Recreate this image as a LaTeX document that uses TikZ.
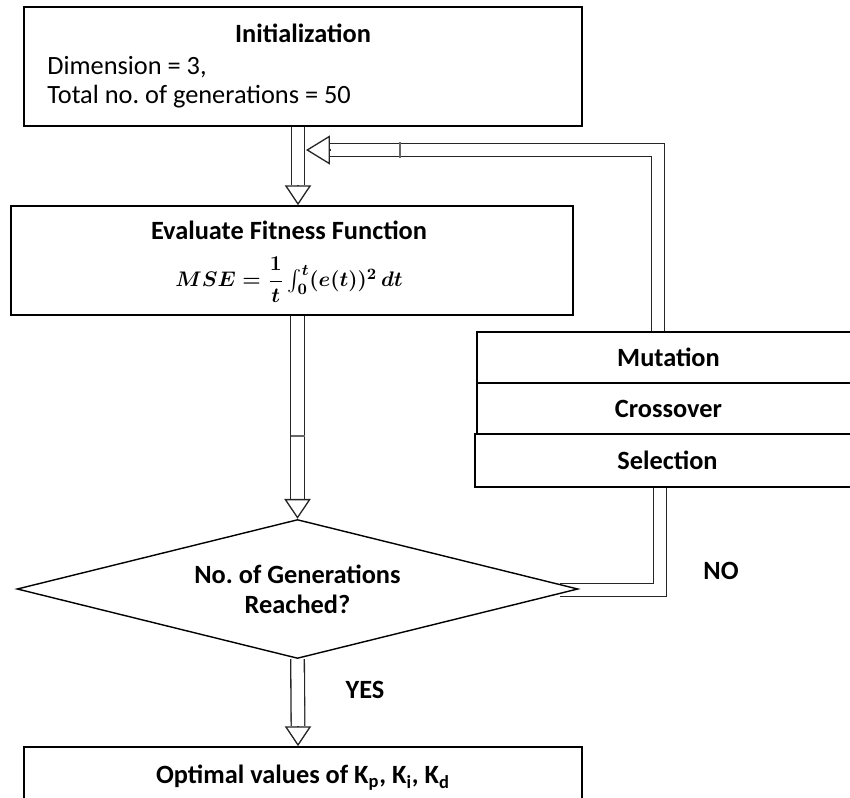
\documentclass[tikz,border=0pt]{standalone}
\usepackage{amsmath}
\usepackage{fontspec}
\setmainfont{Carlito}
\usetikzlibrary{shapes,arrows.meta,backgrounds,positioning}

\newcommand{\flowfont}{\fontsize{15}{17}\selectfont\frenchspacing}
\newcommand{\msefont}{\fontsize{12.5}{15}\selectfont\boldmath}

\begin{document}
\begin{tikzpicture}[x=0.02cm, y=-0.02cm]
			\tikzstyle{Box}		= [rectangle, draw, line width=1pt, fill=white, inner sep=0pt]
			\tikzstyle{Decision}	= [diamond, draw, line width=0.8pt, fill=white, aspect=4, minimum width=11.22cm, minimum height=2.78cm, align=center, inner sep=0pt, font=\flowfont\bfseries]
			\tikzstyle{Label}	= [inner sep=0pt, font=\flowfont\bfseries]
			\tikzstyle{Plain}	= [inner sep=0pt, anchor=west, font=\flowfont]
			\tikzstyle{Band}	= [draw=black!85, line width=0.75pt, double=white, double distance=7pt]
			\tikzstyle{Head}	= [draw=black!85, line width=0.75pt, -{Triangle[fill=white, length=11.3pt, width=15pt]}]
			\tikzstyle{WideHead}	= [draw=black!85, line width=0.75pt, -{Triangle[fill=white, length=13.6pt, width=16.5pt]}]
			\tikzstyle{Tick}	= [line width=0.75pt, black!60]

			\useasboundingbox (0,0) rectangle (850,798);

			% boxes
			\node (init) at (303,66.5) [Box, minimum width=11.16cm, minimum height=2.38cm] {};
			\node (fit) at (292,260.5) [Box, minimum width=11.24cm, minimum height=2.18cm] {};
			\node (mut) at (668.5,357.5) [Box, minimum width=7.66cm, minimum height=1.02cm] {};
			\node (cross) at (668.5,408.5) [Box, minimum width=7.66cm, minimum height=1.02cm] {};
			\node (sel) at (667.5,460.5) [Box, minimum width=7.7cm, minimum height=1.06cm] {};
			\node (dec) at (297.5,589) [Decision] {No. of Generations\\Reached?};
			\node (opt) at (303,778) [Box, minimum width=11.16cm, minimum height=1.24cm] {};

			% texts
			\node (initTitle) at (303,33) [Label] {Initialization};
			\node (dimLine) at (47,67) [Plain] {Dimension = 3,};
			\node (genLine) at (47,97) [Plain] {Total no. of generations = 50};
			\node (fitTitle) at (289,230) [Label] {Evaluate Fitness Function};
			\node (mse) at (289,280) [inner sep=0pt, font=\msefont] {$MSE = \dfrac{1}{t}\int_0^{t}(e(t))^2\,dt$};
			\node (mutText) at (mut) [Label] {Mutation};
			\node (crossText) at (cross) [Label] {Crossover};
			\node (selText) at (sel) [Label] {Selection};
			\node (optText) at (opt) [Label] {Optimal values of K\textsubscript{p}, K\textsubscript{i}, K\textsubscript{d}};
			\node (yes) at (365,690) [Label] {YES};
			\node (no) at (721,571) [Label] {NO};

			% junctions
			\coordinate (trunk) at (298,0);
			\coordinate [above=0.4cm of fit.north -| trunk] (h1);
			\coordinate (fbtip) at (306,150);
			\coordinate [right=0.48cm of fbtip] (fbh);
			\coordinate (fbc) at (658,150);
			\coordinate [above=0.4cm of dec.north] (h2);
			\coordinate (noc) at (660,590);
			\coordinate [above=0.4cm of opt.north -| trunk] (h3);

			\begin{scope}[on background layer]
			\draw [Band] (init.south -| h1) -- (h1);
			\draw [Band] (mut.north -| fbc) -- (fbc) -- (fbh);
			\draw [Band] (fit.south -| h2) -- (h2);
			\draw [Band] (sel.south -| noc) -- (noc) -- (560,590);
			\draw [Band] (dec.south) -- (h3);
			\end{scope}

			\draw [Head] (h1) -- (fit.north -| h1);
			\draw [WideHead] (fbh) -- (fbtip);
			\draw [Head] (h2) -- (dec.north);
			\draw [Head] (h3) -- (opt.north -| h3);

			\draw [Tick] (400,142) -- (400,158);
			\draw [Tick] (291,436) -- (305,436);
		\end{tikzpicture}
\end{document}
